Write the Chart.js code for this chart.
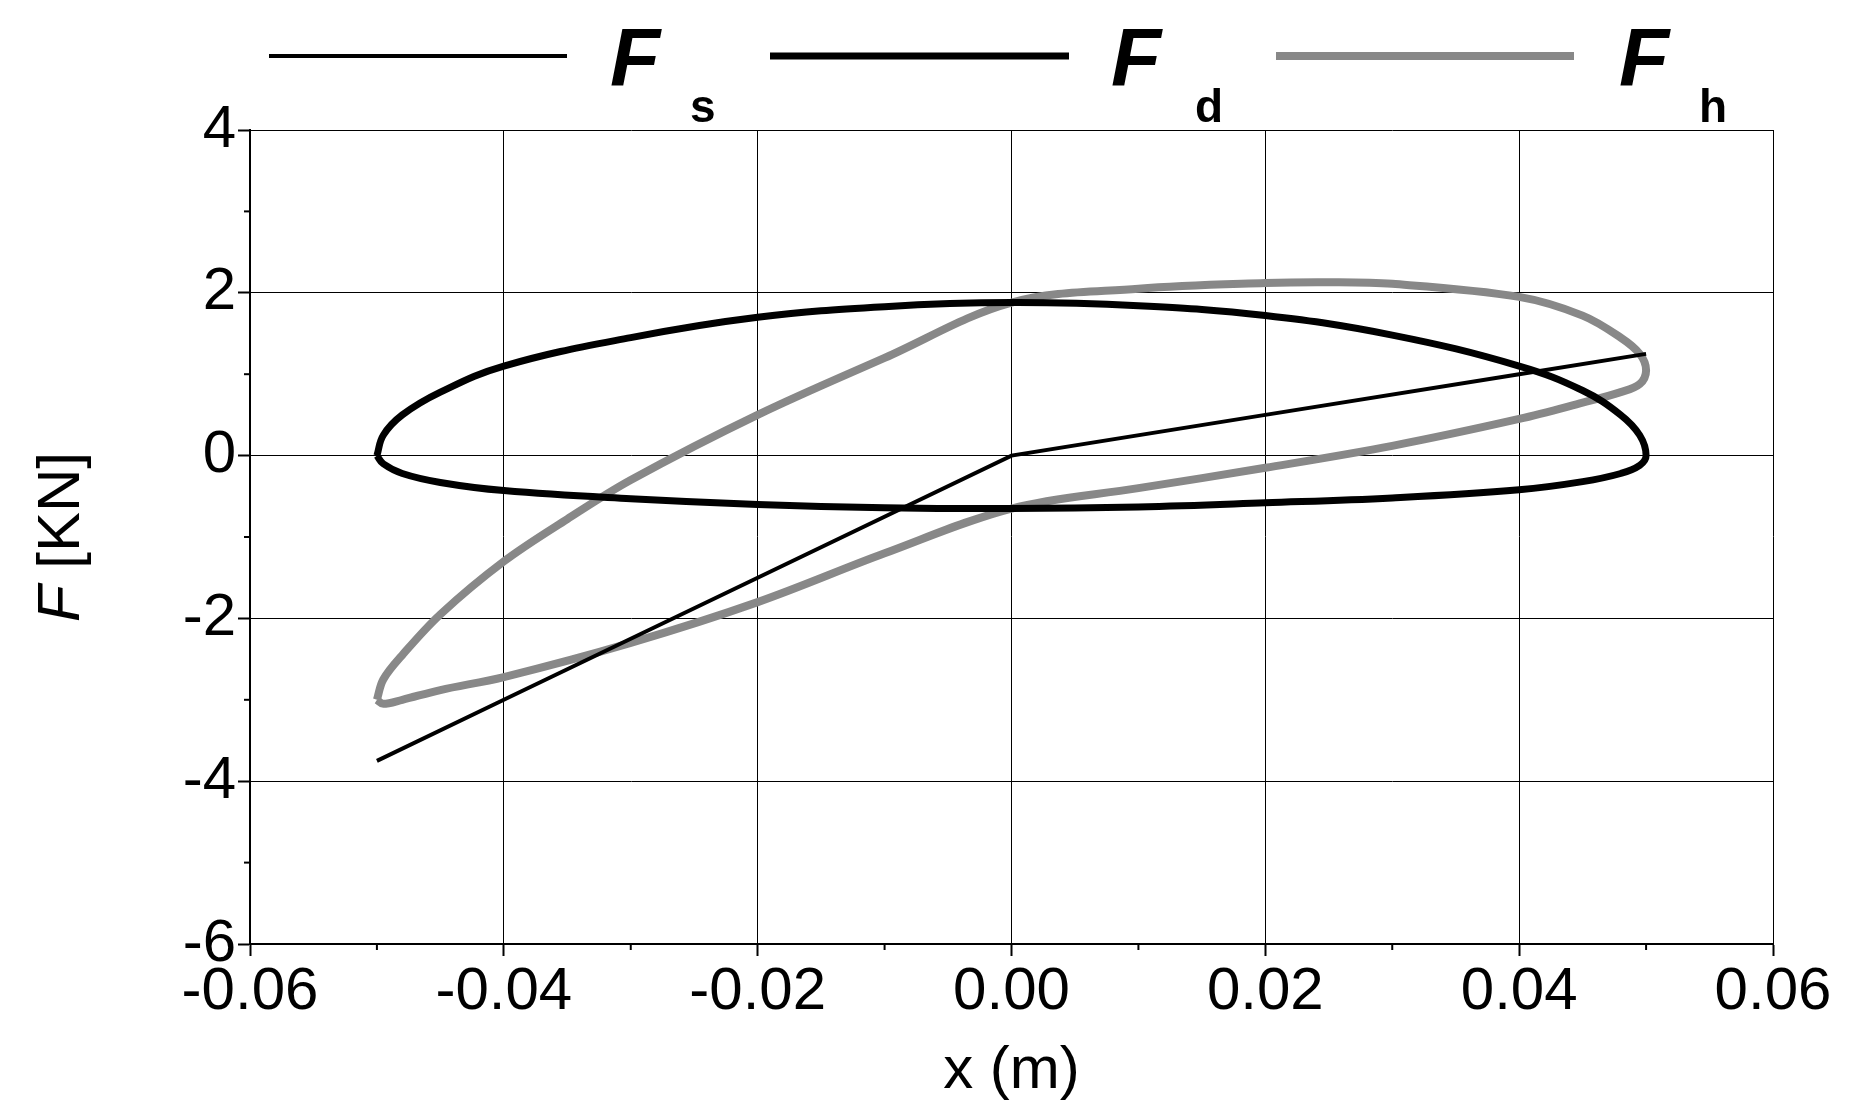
<!DOCTYPE html>
<html>
<head>
<meta charset="utf-8">
<script src="https://cdn.jsdelivr.net/npm/chart.js@4"></script>
<style>
  html, body { margin: 0; padding: 0; background: #fff; }
  #wrap { width: 1873px; height: 1107px; }
</style>
</head>
<body>
<div id="wrap"><canvas id="myChart"></canvas></div>
<script>
// spring force Fs
const fsX = [-0.05, -0.04, -0.02, 0.0, 0.02, 0.04, 0.05];
const fsY = [-3.75, -3.0, -1.5, 0.0, 0.5, 1.0, 1.25];

// damper force Fd (closed loop)
const fdX = [-0.05, -0.0495, -0.048, -0.045, -0.04, -0.03, -0.02, -0.01, 0.0, 0.01, 0.02, 0.03, 0.04, 0.045, 0.048, 0.0495, 0.05,
             0.0495, 0.048, 0.045, 0.04, 0.03, 0.02, 0.01, 0.0, -0.01, -0.02, -0.03, -0.04, -0.045, -0.048, -0.0495, -0.05];
const fdY = [0.0, 0.25, 0.5, 0.78, 1.1, 1.45, 1.7, 1.83, 1.88, 1.84, 1.72, 1.48, 1.1, 0.8, 0.5, 0.25, 0.0,
             -0.12, -0.22, -0.32, -0.42, -0.52, -0.58, -0.63, -0.65, -0.64, -0.6, -0.53, -0.43, -0.33, -0.22, -0.1, 0.0];

// total force Fh (closed loop)
const fhX = [-0.05, -0.0495, -0.048, -0.045, -0.04, -0.035, -0.03, -0.02, -0.01, 0.0, 0.01, 0.02, 0.025, 0.03, 0.04, 0.045, 0.048, 0.0495, 0.05,
             0.0495, 0.048, 0.045, 0.04, 0.03, 0.02, 0.01, 0.0, -0.01, -0.02, -0.03, -0.04, -0.045, -0.048, -0.0495, -0.05];
const fhY = [-3.0, -2.75, -2.45, -1.95, -1.3, -0.78, -0.3, 0.5, 1.2, 1.88, 2.05, 2.12, 2.13, 2.11, 1.95, 1.72, 1.45, 1.25, 1.05,
             0.88, 0.78, 0.65, 0.45, 0.12, -0.15, -0.4, -0.65, -1.2, -1.8, -2.3, -2.72, -2.88, -3.0, -3.05, -3.0];

const xTicks = [-0.06, -0.04, -0.02, 0.0, 0.02, 0.04, 0.06];
const yTicks = [-6, -4, -2, 0, 2, 4];

function pts(xs, ys) { return xs.map((x, i) => ({ x: x, y: ys[i] })); }

const FONT = '"Liberation Sans", Arial, sans-serif';

const extras = {
  id: 'extras',
  afterDraw(chart) {
    const { ctx, scales: { x, y } } = chart;
    ctx.save();
    ctx.strokeStyle = '#000';
    ctx.lineWidth = 2;
    // minor ticks
    for (let v = -0.05; v < 0.06; v += 0.02) {
      const px = x.getPixelForValue(v);
      ctx.beginPath(); ctx.moveTo(px, y.bottom); ctx.lineTo(px, y.bottom + 6); ctx.stroke();
    }
    for (let v = -5; v < 4; v += 2) {
      const py = y.getPixelForValue(v);
      ctx.beginPath(); ctx.moveTo(x.left, py); ctx.lineTo(x.left - 6, py); ctx.stroke();
    }
    // y title
    ctx.translate(62, (y.top + y.bottom) / 2);
    ctx.rotate(-Math.PI / 2);
    ctx.fillStyle = '#000';
    ctx.textBaseline = 'middle';
    ctx.font = 'italic 60px ' + FONT;
    const w1 = ctx.measureText('F').width;
    ctx.font = '60px ' + FONT;
    const w2 = ctx.measureText(' [KN]').width;
    let sx = -(w1 + w2) / 2;
    ctx.font = 'italic 60px ' + FONT;
    ctx.fillText('F', sx, 0);
    ctx.font = '60px ' + FONT;
    ctx.fillText(' [KN]', sx + w1, 0);
    ctx.restore();

    // legend
    const items = [
      { x1: 269, x2: 567, w: 4, c: '#000', fx: 610, sub: 's', sx: 690 },
      { x1: 770, x2: 1069, w: 7, c: '#000', fx: 1111, sub: 'd', sx: 1195 },
      { x1: 1276, x2: 1574, w: 8, c: '#888', fx: 1619, sub: 'h', sx: 1699 }
    ];
    ctx.save();
    items.forEach(it => {
      ctx.strokeStyle = it.c; ctx.lineWidth = it.w;
      ctx.beginPath(); ctx.moveTo(it.x1, 56); ctx.lineTo(it.x2, 56); ctx.stroke();
      ctx.fillStyle = '#000';
      ctx.textBaseline = 'alphabetic';
      ctx.font = 'italic bold 82px ' + FONT;
      ctx.fillText('F', it.fx, 86);
      ctx.font = 'bold 46px ' + FONT;
      ctx.fillText(it.sub, it.sx, 122);
    });
    ctx.restore();
  }
};

const lineDs = (label, data, color, width, tension) => ({
  label, data, borderColor: color, borderWidth: width, pointRadius: 0,
  showLine: true, fill: false, tension: tension
});

const config = {
  type: 'scatter',
  data: {
    datasets: [
      lineDs('Fs', pts(fsX, fsY), '#000', 4, 0),
      lineDs('Fd', pts(fdX, fdY), '#000', 7, 0.4),
      lineDs('Fh', pts(fhX, fhY), '#888', 8, 0.35)
    ]
  },
  options: {
    responsive: true,
    maintainAspectRatio: false,
    animation: false,
    layout: { padding: { left: 0, top: 130, right: 100, bottom: 0 } },
    plugins: { legend: { display: false }, tooltip: { enabled: false } },
    scales: {
      x: {
        type: 'linear', min: -0.06, max: 0.06,
        afterBuildTicks: s => { s.ticks = xTicks.map(v => ({ value: v })); },
        afterFit: s => { s.height = 163; },
        grid: { color: '#000', lineWidth: 1, tickLength: 12, tickColor: '#000', tickWidth: 2 },
        border: { color: '#000', width: 2 },
        ticks: { color: '#000', font: { family: FONT, size: 60 }, maxRotation: 0, padding: 0,
                 callback: v => v.toFixed(2) },
        title: { display: true, text: 'x (m)', color: '#000', font: { family: FONT, size: 60 },
                 padding: { top: -14, bottom: 0 } }
      },
      y: {
        type: 'linear', min: -6, max: 4,
        afterBuildTicks: s => { s.ticks = yTicks.map(v => ({ value: v })); },
        afterFit: s => { s.width = 250; },
        grid: { color: '#000', lineWidth: 1, tickLength: 12, tickColor: '#000', tickWidth: 2 },
        border: { color: '#000', width: 2 },
        ticks: { color: '#000', font: { family: FONT, size: 60 }, padding: 2 }
      }
    }
  },
  plugins: [extras]
};

new Chart(document.getElementById('myChart').getContext('2d'), config);
</script>
</body>
</html>
